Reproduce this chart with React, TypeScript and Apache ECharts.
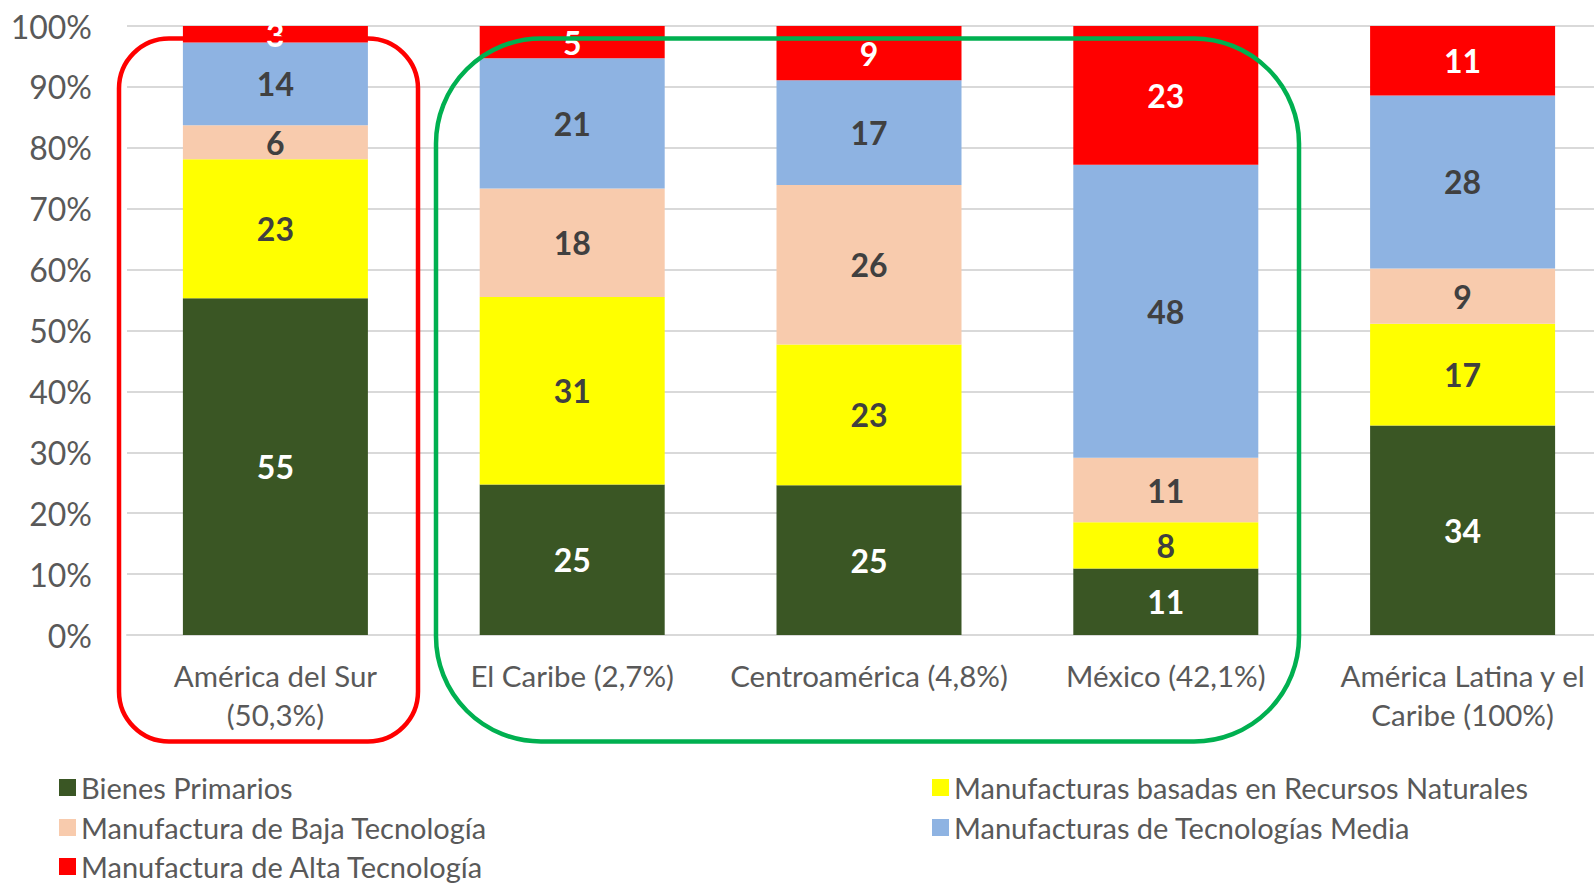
import { useEffect, useRef } from "react";
import * as echarts from "echarts";

const categories = [
  "América del Sur\n(50,3%)",
  "El Caribe (2,7%)",
  "Centroamérica (4,8%)",
  "México (42,1%)",
  "América Latina y el\nCaribe (100%)",
];

const seriesNames = [
  "Bienes Primarios",
  "Manufacturas basadas en Recursos Naturales",
  "Manufactura de Baja Tecnología",
  "Manufacturas de Tecnologías Media",
  "Manufactura de Alta Tecnología",
];

const bienesPrimarios = [55.3, 24.7, 24.6, 10.9, 34.4];
const recursosNaturales = [22.8, 30.8, 23.1, 7.6, 16.7];
const bajaTecnologia = [5.6, 17.8, 26.2, 10.6, 9.1];
const mediaTecnologia = [13.6, 21.4, 17.2, 48.1, 28.4];
const altaTecnologia = [2.7, 5.3, 8.9, 22.8, 11.4];

const seriesData = [bienesPrimarios, recursosNaturales, bajaTecnologia, mediaTecnologia, altaTecnologia];
const colors = ["#3A5624", "#FFFF00", "#F8CBAD", "#8EB3E2", "#FF0000"];
const labelColors = ["#FFFFFF", "#404040", "#404040", "#404040", "#FFFFFF"];

// legend layout: two columns, three rows (series order fills rows left to right)
const legendLefts = [59, 932, 59, 932, 59];
const legendTops = [773, 773, 813, 813, 852];

const FONT = "Lato";

export default function App() {
  const ref = useRef<HTMLDivElement>(null);

  useEffect(() => {
    if (!ref.current) return;
    const chart = echarts.init(ref.current, null, { renderer: "svg" });
    chart.setOption({
      animation: false,
      backgroundColor: "#FFFFFF",
      textStyle: { fontFamily: FONT },
      grid: { left: 127, right: 0, top: 26, bottom: 250 },
      legend: seriesNames.map((name, i) => ({
        data: [name],
        orient: "horizontal",
        left: legendLefts[i],
        top: legendTops[i],
        padding: 0,
        itemWidth: 17,
        itemHeight: 17,
        icon: "rect",
        textStyle: { fontFamily: FONT, fontSize: 29, color: "#595959" },
      })),
      xAxis: {
        type: "category",
        data: categories,
        axisTick: { show: false },
        axisLine: { show: true, lineStyle: { color: "#D9D9D9", width: 2 } },
        axisLabel: {
          color: "#595959",
          fontFamily: FONT,
          fontSize: 29.5,
          lineHeight: 39,
          margin: 21,
          interval: 0,
        },
      },
      yAxis: {
        type: "value",
        min: 0,
        max: 100,
        interval: 10,
        axisLine: { show: false },
        axisTick: { show: false },
        splitLine: { lineStyle: { color: "#D9D9D9", width: 2 } },
        axisLabel: {
          formatter: "{value}%",
          color: "#595959",
          fontFamily: FONT,
          fontSize: 32,
          margin: 35,
        },
      },
      series: seriesNames.map((name, i) => ({
        name,
        type: "bar",
        stack: "total",
        barWidth: 185,
        data: seriesData[i],
        itemStyle: { color: colors[i] },
        label: {
          show: true,
          position: "inside",
          color: labelColors[i],
          fontFamily: FONT,
          fontWeight: "bold",
          fontSize: 32,
          formatter: (p: any) => String(Math.round(p.value)),
        },
      })),
      graphic: [
        {
          type: "rect",
          silent: true,
          z: 100,
          shape: { x: 119, y: 38.5, width: 299, height: 703, r: 50 },
          style: { fill: "none", stroke: "#FF0000", lineWidth: 4.5 },
        },
        {
          type: "rect",
          silent: true,
          z: 100,
          shape: { x: 436, y: 38.5, width: 863, height: 703, r: 105 },
          style: { fill: "none", stroke: "#00B050", lineWidth: 4.5 },
        },
      ],
    });
    return () => chart.dispose();
  }, []);

  return (
    <div
      style={{
        position: "absolute",
        left: 0,
        top: 0,
        width: 1594,
        height: 885,
        overflow: "hidden",
        background: "#FFFFFF",
      }}
    >
      <div ref={ref} style={{ width: 1611, height: 885 }} />
    </div>
  );
}
